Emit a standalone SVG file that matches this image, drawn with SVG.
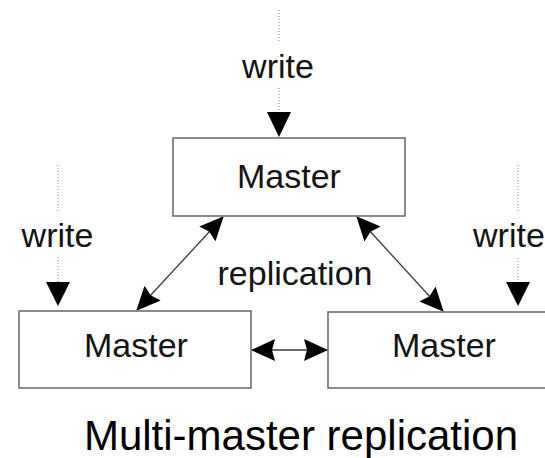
<svg xmlns="http://www.w3.org/2000/svg" width="545" height="458" viewBox="0 0 545 458">
  <style>
    .box { fill: #ffffff; stroke: #6e6e6e; stroke-width: 1.6; }
    .label { font-family: "Liberation Sans", Arial, sans-serif; font-size: 34px; fill: #141414; text-anchor: middle; }
    .caption { font-family: "Liberation Sans", Arial, sans-serif; font-size: 42px; fill: #000000; text-anchor: middle; }
    .dots { stroke: #a0a0a0; stroke-width: 1.2; stroke-dasharray: 1 2; fill: none; }
    .link { stroke: #3a3a3a; stroke-width: 1.3; fill: none; }
    .head { fill: #000000; }
  </style>
  <defs>
    <marker id="arrow" viewBox="0 0 24 22" markerUnits="userSpaceOnUse" markerWidth="24" markerHeight="22" refX="23" refY="11" orient="auto-start-reverse">
      <path d="M0,0 L24,11 L0,22 L3,11 z" class="head"/>
    </marker>
  </defs>

  <rect width="545" height="458" fill="#ffffff"/>

  <!-- writes into each master -->
  <g id="write-top">
    <line class="dots" x1="279" y1="10" x2="279" y2="43"/>
    <text class="label" x="278" y="78">write</text>
    <line class="dots" x1="279" y1="88" x2="279" y2="113"/>
    <polygon class="head" points="267,112 291,112 279,137"/>
  </g>
  <g id="write-left">
    <line class="dots" x1="58" y1="165" x2="58" y2="213"/>
    <text class="label" x="57.5" y="247">write</text>
    <line class="dots" x1="58" y1="257" x2="58" y2="283"/>
    <polygon class="head" points="46,282 70,282 58,306"/>
  </g>
  <g id="write-right">
    <line class="dots" x1="518" y1="165" x2="518" y2="213"/>
    <text class="label" x="473" y="247" style="text-anchor:start">write</text>
    <line class="dots" x1="518" y1="258" x2="518" y2="283"/>
    <polygon class="head" points="506,282 530,282 518,306"/>
  </g>

  <!-- replication links between masters -->
  <g id="connectors">
    <line class="link" x1="223" y1="217" x2="137" y2="310" marker-start="url(#arrow)" marker-end="url(#arrow)"/>
    <line class="link" x1="357" y1="217" x2="443" y2="311" marker-start="url(#arrow)" marker-end="url(#arrow)"/>
    <line class="link" x1="252" y1="350" x2="327" y2="350" marker-start="url(#arrow)" marker-end="url(#arrow)"/>
  </g>

  <text id="replication-label" class="label" x="295" y="285">replication</text>

  <g id="master-top">
    <rect class="box" x="173" y="138" width="232" height="78"/>
    <text class="label" x="289" y="188">Master</text>
  </g>
  <g id="master-left">
    <rect class="box" x="19" y="311" width="232" height="77"/>
    <text class="label" x="136" y="357">Master</text>
  </g>
  <g id="master-right">
    <rect class="box" x="328" y="312" width="232" height="76"/>
    <text class="label" x="444" y="357">Master</text>
  </g>

  <text id="caption" class="caption" x="301" y="450">Multi-master replication</text>
</svg>
